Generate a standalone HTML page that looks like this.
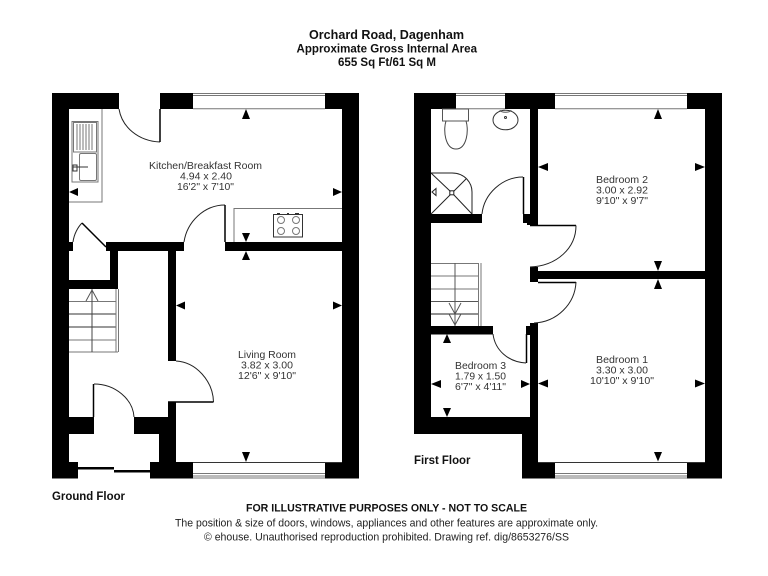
<!DOCTYPE html>
<html>
<head>
<meta charset="utf-8">
<style>
html,body{margin:0;padding:0;background:#fff;width:768px;height:576px;overflow:hidden}
svg{display:block}
text{font-family:"Liberation Sans",sans-serif;fill:#222}
.b{font-weight:bold;fill:#111}
.l{font-size:10.5px;fill:#333}
.thin{fill:none;stroke:#222;stroke-width:1}
.g{fill:none;stroke:#777;stroke-width:1}
.w{fill:#000;stroke:none}
.a{fill:#000;stroke:none}
</style>
</head>
<body>
<svg width="768" height="576" viewBox="0 0 768 576" xmlns="http://www.w3.org/2000/svg">
<rect width="768" height="576" fill="#fff"/>

<!-- GROUND FLOOR walls -->
<g class="w">
<rect x="52" y="93" width="17" height="385.500"/>
<rect x="52" y="93" width="67" height="16"/>
<rect x="160" y="93" width="33" height="16"/>
<rect x="325" y="93" width="34" height="16"/>
<rect x="342" y="93" width="17" height="385.500"/>
<rect x="325" y="462" width="34" height="16.500"/>
<rect x="69" y="242" width="4" height="9"/>
<rect x="106" y="242" width="78" height="9"/>
<rect x="225" y="242" width="117" height="9"/>
<rect x="110" y="250" width="8" height="39"/>
<rect x="69" y="280" width="49" height="9"/>
<rect x="168" y="250" width="8" height="111"/>
<rect x="168" y="402" width="8" height="60"/>
<rect x="69" y="417" width="25" height="17"/>
<rect x="134" y="417" width="34" height="17"/>
<rect x="159" y="417" width="17" height="50"/>
<rect x="52" y="462" width="26" height="16.500"/>
<rect x="150" y="462" width="43" height="16.500"/>
<rect x="78" y="467" width="36" height="2.500"/>
<rect x="114" y="470" width="36" height="2.500"/>
</g>
<!-- ground windows -->
<g class="g">
<path d="M193 93.500H325M193 95.500H325M193 108.800H325"/>
<path d="M193 462.500H342" stroke="#333"/>
<path d="M193 473.500H325M193 476H325M193 478H325"/>
</g>
<!-- kitchen worktop / sink -->
<g class="g">
<path d="M69 202H102V109"/>
<rect x="72" y="121.500" width="26" height="60.500"/>
<rect x="73.500" y="122.500" width="23" height="29.500"/>
<path d="M77 124V150M80 124V150M83 124V150M86 124V150M89 124V150M92 124V150"/>
<rect x="79.500" y="153.500" width="17" height="27" rx="1.500"/>
<path d="M73 165H77V171H73Z M73 167H88" stroke="#333"/>
<path d="M234 242V208.500H342"/>
<rect x="273.500" y="214.500" width="29" height="22.500" stroke="#333"/>
<circle cx="281" cy="220" r="3.500"/><circle cx="296" cy="220" r="3.500"/>
<circle cx="281" cy="231" r="3.500"/><circle cx="296" cy="231" r="3.500"/>
<path d="M277 213.500H280M287 213.500H289M295 213.500H299" stroke="#333"/>
</g>
<!-- ground doors -->
<g class="thin">
<path d="M119 109C122 127 138 141 160 142"/>
<path d="M160 109V142" stroke="#000" stroke-width="1.500"/>
<path d="M184 242C187 222 204 205 225 205"/>
<path d="M225 205V242" stroke="#000" stroke-width="1.500"/>
<path d="M176 361C196 362 213 381 213.500 402"/>
<path d="M168 402H213.500" stroke="#000" stroke-width="1.500"/>
<path d="M94 384C115 384 133 399 134 417"/>
<path d="M93.500 384V417" stroke="#000" stroke-width="1.500"/>
<path d="M73 242C74 234 78 227 82 223"/>
<path d="M82 223L106 247" stroke="#000" stroke-width="1.500"/>
</g>
<!-- ground stairs -->
<g class="g">
<path d="M69 301.500H116M69 340H116M69 352H118"/>
<path d="M69 314H116M69 327H116" stroke="#333"/>
<path d="M92 289V352" stroke="#444"/>
<path d="M116 289V352M118.500 289V352"/>
<path d="M86 301L92 290L98 301" stroke="#555"/>
</g>
<!-- ground arrows -->
<g class="a">
<path d="M69 192L78 188V196Z"/>
<path d="M246 109L242 119H250Z"/>
<path d="M342 192L333 188V196Z"/>
<path d="M246 242L242 233H250Z"/>
<path d="M246 251L242 260H250Z"/>
<path d="M176 305.500L185 301.500V309.500Z"/>
<path d="M342 305.500L333 301.500V309.500Z"/>
<path d="M246 462L242 452H250Z"/>
</g>

<!-- FIRST FLOOR walls -->
<g class="w">
<rect x="414" y="93" width="17" height="341"/>
<rect x="414" y="93" width="42" height="16"/>
<rect x="505" y="93" width="50" height="16"/>
<rect x="687" y="93" width="35" height="16"/>
<rect x="705" y="93" width="17" height="385.500"/>
<rect x="530" y="93" width="8" height="132"/>
<rect x="431" y="214" width="51" height="9"/>
<rect x="523" y="214" width="15" height="9"/>
<rect x="527" y="219" width="11" height="6"/>
<rect x="530" y="267" width="8" height="15"/>
<rect x="538" y="271" width="167" height="8"/>
<rect x="530" y="323" width="8" height="155.500"/>
<rect x="526" y="326" width="4" height="9"/>
<rect x="431" y="326" width="62" height="8.500"/>
<rect x="414" y="417" width="124" height="17"/>
<rect x="522" y="417" width="16" height="61.500"/>
<rect x="522" y="462" width="33" height="16.500"/>
<rect x="687" y="462" width="35" height="16.500"/>
</g>
<!-- first windows -->
<g class="g">
<path d="M456 93.500H505M456 95.500H505M456 108.800H505"/>
<path d="M555 93.500H687M555 95.500H687M555 108.800H687"/>
<path d="M538 462.500H705" stroke="#333"/>
<path d="M555 473.500H687M555 476H687M555 478H687"/>
</g>
<!-- bathroom -->
<g class="g" stroke="#333">
<rect x="442.500" y="109" width="26" height="12" stroke="#555"/>
<path d="M446 121C443 130 445 149 456 149C467 149 469 130 466 121" stroke="#444"/>
<ellipse cx="505.500" cy="120" rx="12.500" ry="9.800" stroke="#333"/>
<path d="M500 110C500 113 511 113 511 110" stroke="#555"/>
<circle cx="505.500" cy="117.500" r="1" stroke="#333"/>
<path d="M431 173H452C465 173 472 183 472 192V214" stroke="#222"/>
<path d="M431 173L450.500 191.500M453.500 194.500L472 214M431 214L450.500 194.500M453.500 191.500L466 179" stroke="#222"/>
<rect x="449.800" y="190.800" width="4" height="4" stroke="#222"/>
<path d="M436 188.500V195.500L432 192Z" stroke="#222"/>
</g>
<!-- first doors -->
<g class="thin">
<path d="M482 214C484 194 502 177 523 177"/>
<path d="M523.500 177V214" stroke="#000" stroke-width="1.500"/>
<path d="M530 225.500H576" stroke="#000" stroke-width="1.500"/>
<path d="M576 225.500C576 248 557 266 530 267"/>
<path d="M538 282.500H576" stroke="#000" stroke-width="1.500"/>
<path d="M576 282C575 304 557 322 534 323"/>
<path d="M493 334C495 350 508 362 526 363"/>
<path d="M526.500 334V363" stroke="#000" stroke-width="1.500"/>
</g>
<!-- first stairs -->
<g class="g">
<path d="M431 263.500H478M431 276H478M431 289H478"/>
<path d="M431 301.500H478" stroke="#555"/>
<path d="M431 314H478" stroke="#222"/>
<path d="M455 263V326" stroke="#555"/>
<path d="M478.500 263V326M481 263V326"/>
<path d="M449 303L455 314L461 303M449 314L455 325L461 314" stroke="#555"/>
</g>
<!-- first arrows -->
<g class="a">
<path d="M658 109L654 119H662Z"/>
<path d="M538 167L548 163V171Z"/>
<path d="M705 167L695 163V171Z"/>
<path d="M658 271L654 261H662Z"/>
<path d="M658 279L654 289H662Z"/>
<path d="M538 383.500L548 379.500V387.500Z"/>
<path d="M705 383.500L695 379.500V387.500Z"/>
<path d="M658 461.500L654 452H662Z"/>
<path d="M447 334L443 343H451Z"/>
<path d="M447 417L443 408H451Z"/>
<path d="M431 384L441 380V388Z"/>
<path d="M530 384L521 380V388Z"/>
</g>

<!-- Title -->
<text class="b" x="309" y="39" font-size="13" textLength="155" lengthAdjust="spacingAndGlyphs">Orchard Road, Dagenham</text>
<text class="b" x="296.500" y="52.500" font-size="12" textLength="180.500" lengthAdjust="spacingAndGlyphs">Approximate Gross Internal Area</text>
<text class="b" x="338" y="66" font-size="12" textLength="98" lengthAdjust="spacingAndGlyphs">655 Sq Ft/61 Sq M</text>

<!-- room labels -->
<text class="l" x="149" y="169" textLength="113" lengthAdjust="spacingAndGlyphs">Kitchen/Breakfast Room</text>
<text class="l" x="180" y="179.500" textLength="52" lengthAdjust="spacingAndGlyphs">4.94 x 2.40</text>
<text class="l" x="177" y="190" textLength="57" lengthAdjust="spacingAndGlyphs">16'2" x 7'10"</text>

<text class="l" x="238" y="358" textLength="58" lengthAdjust="spacingAndGlyphs">Living Room</text>
<text class="l" x="241" y="368.500" textLength="52" lengthAdjust="spacingAndGlyphs">3.82 x 3.00</text>
<text class="l" x="238" y="379" textLength="58" lengthAdjust="spacingAndGlyphs">12'6" x 9'10"</text>

<text class="l" x="596" y="183" textLength="52" lengthAdjust="spacingAndGlyphs">Bedroom 2</text>
<text class="l" x="596" y="193.500" textLength="52" lengthAdjust="spacingAndGlyphs">3.00 x 2.92</text>
<text class="l" x="596" y="204" textLength="52" lengthAdjust="spacingAndGlyphs">9'10" x 9'7"</text>

<text class="l" x="596" y="363" textLength="52" lengthAdjust="spacingAndGlyphs">Bedroom 1</text>
<text class="l" x="596" y="373.500" textLength="52" lengthAdjust="spacingAndGlyphs">3.30 x 3.00</text>
<text class="l" x="590" y="384" textLength="64" lengthAdjust="spacingAndGlyphs">10'10" x 9'10"</text>

<text class="l" x="455" y="369" textLength="51" lengthAdjust="spacingAndGlyphs">Bedroom 3</text>
<text class="l" x="455" y="379.500" textLength="51" lengthAdjust="spacingAndGlyphs">1.79 x 1.50</text>
<text class="l" x="455" y="390" textLength="51" lengthAdjust="spacingAndGlyphs">6'7" x 4'11"</text>

<text class="b" x="52" y="500" font-size="11.500" textLength="73" lengthAdjust="spacingAndGlyphs">Ground Floor</text>
<text class="b" x="414" y="464" font-size="11.500" textLength="56.500" lengthAdjust="spacingAndGlyphs">First Floor</text>

<!-- footer -->
<text class="b" x="246" y="511.500" font-size="11" textLength="281" lengthAdjust="spacingAndGlyphs">FOR ILLUSTRATIVE PURPOSES ONLY - NOT TO SCALE</text>
<text x="175" y="526.500" font-size="11" textLength="423" lengthAdjust="spacingAndGlyphs">The position &amp; size of doors, windows, appliances and other features are approximate only.</text>
<text x="204" y="540.700" font-size="11" textLength="365" lengthAdjust="spacingAndGlyphs">© ehouse. Unauthorised reproduction prohibited. Drawing ref. dig/8653276/SS</text>
</svg>
</body>
</html>
